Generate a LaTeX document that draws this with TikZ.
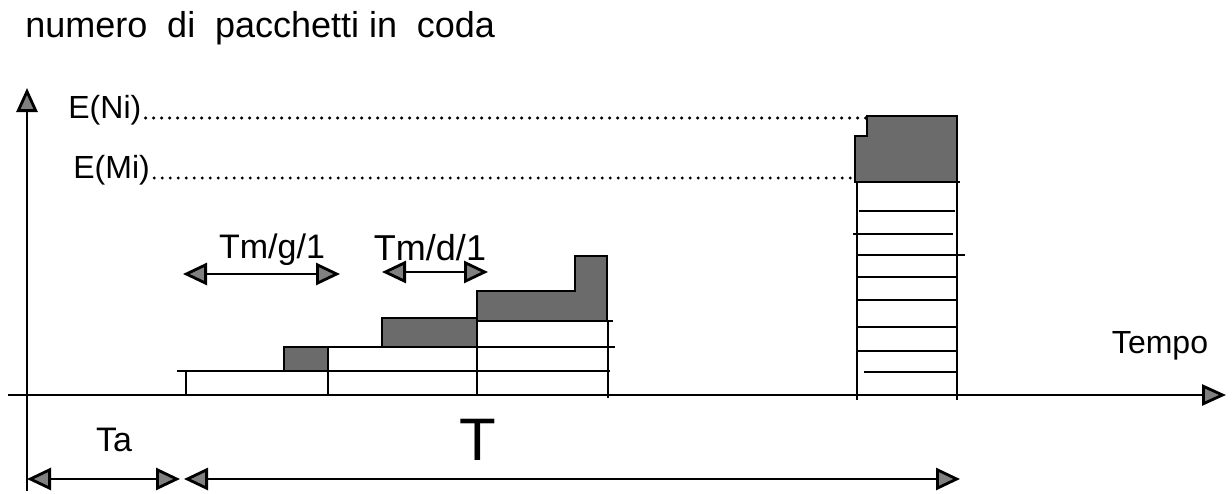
\documentclass[tikz,border=0pt]{standalone}
\usepackage{fontspec}
\setmainfont{Liberation Sans}
\usetikzlibrary{arrows.meta}

\begin{document}
\begin{tikzpicture}[x=0.5pt, y=-0.5pt,
    line/.style={line width=1.4pt},
    shade/.style={draw=black, line width=0.9pt, fill=black!58},
    dots/.style={line width=1.7pt, line cap=round, dash pattern=on 0pt off 4pt},
    tip/.style={-{Triangle[length=12pt,width=10.5pt,fill=black!50]}, line width=1.4pt},
    span/.style={{Triangle[length=12pt,width=11pt,fill=black!50]}-{Triangle[length=12pt,width=11pt,fill=black!50]}, line width=1.4pt},
    lbl/.style={font=\fontsize{16}{18}\selectfont, inner sep=0pt}
]
\useasboundingbox (0,0) rectangle (1232,493);

% axes
\coordinate (ybot) at (27,491);
\coordinate (ytop) at (27,88);
\coordinate (xleft) at (8,395);
\coordinate (xright) at (1226,395);
\draw[tip] (ybot) -- (ytop);
\draw[tip] (xleft) -- (xright);

\node[lbl, font=\fontsize{18}{20}\selectfont, anchor=base west] (title) at (25,37)
  {numero\hspace{0.55em}di\hspace{0.55em}pacchetti in\hspace{0.55em}coda};
\node[lbl] (tempo) at (1160,346) {Tempo};

% levels
\node[lbl, anchor=base west] (eni) at (68,118) {E(Ni)};
\node[lbl, anchor=base west] (emi) at (73,178) {E(Mi)};
\coordinate (enend) at (867,118);
\coordinate (emend) at (855,178);
\draw[dots] ([xshift=2pt]eni.base east) -- (enend);
\draw[dots] ([xshift=2pt]emi.base east) -- (emend);

% queue growth
\fill[shade] (284,347) rectangle (328,371);
\fill[shade] (382,318) rectangle (477,347);
\filldraw[shade] (477,321) -- (477,291) -- (575,291) -- (575,256) -- (607,256) -- (607,321) -- cycle;
\draw[line] (177,371) -- (610,371);
\draw[line] (328,347) -- (615,347);
\draw[line] (477,321) -- (613,321);
\draw[line] (186,371) -- (186,395);
\draw[line] (328,347) -- (328,395);
\draw[line] (477,318) -- (477,395);
\draw[line] (608,321) -- (608,398);

% full queue
\filldraw[shade] (867,116) -- (957,116) -- (957,182) -- (855,182) -- (855,136) -- (867,136) -- cycle;
\draw[line] (857,182) -- (857,400);
\draw[line] (957,182) -- (957,400);
\draw[line] (857,182) -- (960,182);
\draw[line] (859,211) -- (955,211);
\draw[line] (853,234) -- (953,234);
\draw[line] (857,255) -- (965,255);
\draw[line] (858,277) -- (956,277);
\draw[line] (858,300) -- (956,300);
\draw[line] (858,327) -- (956,327);
\draw[line] (858,351) -- (956,351);
\draw[line] (864,372) -- (956,372);

% service times
\coordinate (gl) at (183,274);
\coordinate (gr) at (340,274);
\coordinate (dl) at (382,272);
\coordinate (dr) at (488,272);
\draw[span] (gl) -- (gr);
\draw[span] (dl) -- (dr);
\node[lbl, font=\fontsize{17}{19}\selectfont] (tmg) at (272,250) {Tm/g/1};
\node[lbl, font=\fontsize{18}{20}\selectfont] (tmd) at (430,248) {Tm/d/1};

% intervals
\coordinate (tal) at (27,479);
\coordinate (tar) at (180,479);
\coordinate (tl) at (184,479);
\coordinate (tr) at (960,479);
\draw[span] (tal) -- (tar);
\draw[span] (tl) -- (tr);
\node[lbl, font=\fontsize{17}{19}\selectfont] (ta) at (114,440) {Ta};
\node[lbl, font=\fontsize{30}{32}\selectfont] (t) at (478,440) {T};
\end{tikzpicture}
\end{document}
